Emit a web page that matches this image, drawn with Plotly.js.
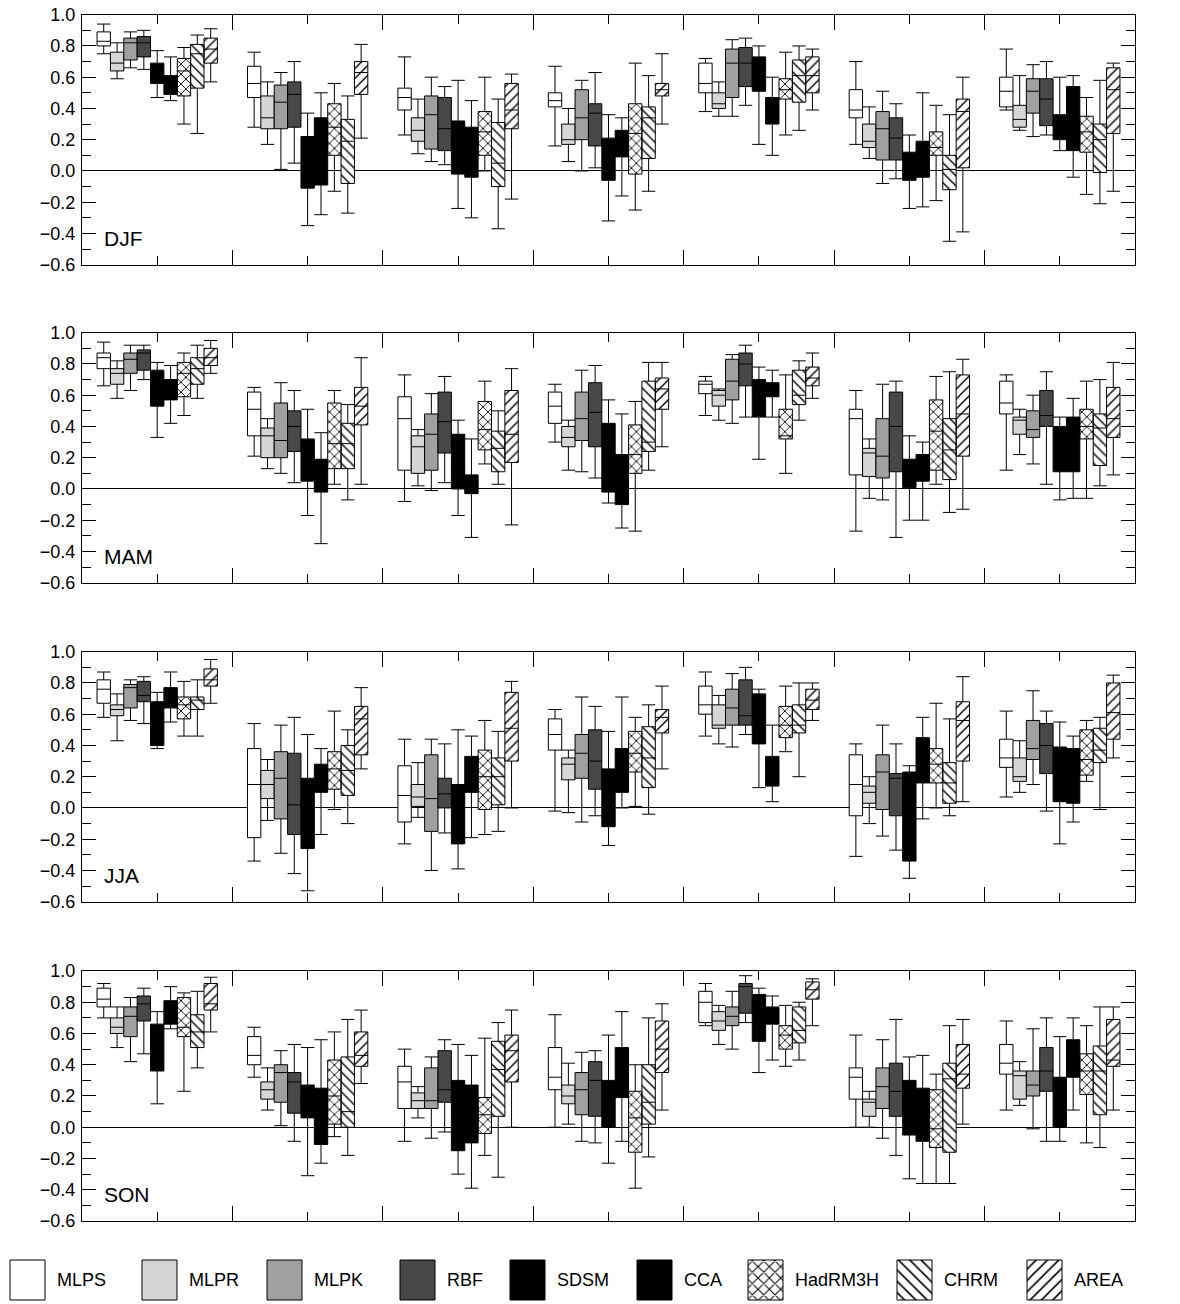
<!DOCTYPE html>
<html><head><meta charset="utf-8">
<script src="https://cdn.plot.ly/plotly-3.0.1.min.js"></script>
<style>html,body{margin:0;padding:0;background:#fff}#chart{width:1180px;height:1304px}</style>
</head><body><div id="chart"></div>
<script>
const indices = ['pav','pint','pq90','px5d','pxcdd','pfl90','pnl90'];
const methods = ['MLPS','MLPR','MLPK','RBF','SDSM','CCA','HadRM3H','CHRM','AREA'];
const seasons = ['DJF','MAM','JJA','SON'];

// rows = methods (MLPS..AREA), columns = indices (pav..pnl90)
const djfUpper = [
 [0.94,0.76,0.73,0.67,0.72,0.70,0.78],
 [0.82,0.57,0.46,0.40,0.57,0.41,0.61],
 [0.89,0.63,0.60,0.58,0.84,0.51,0.68],
 [0.90,0.70,0.54,0.63,0.85,0.43,0.70],
 [0.77,0.37,0.58,0.36,0.80,0.23,0.60],
 [0.73,0.50,0.45,0.34,0.60,0.50,0.61],
 [0.79,0.56,0.60,0.69,0.76,0.42,0.47],
 [0.87,0.48,0.46,0.61,0.80,0.36,0.58],
 [0.91,0.81,0.62,0.75,0.78,0.60,0.69]];
const djfQ3 = [
 [0.89,0.67,0.53,0.50,0.69,0.52,0.60],
 [0.76,0.48,0.34,0.30,0.50,0.30,0.42],
 [0.85,0.55,0.48,0.52,0.78,0.38,0.59],
 [0.86,0.57,0.47,0.43,0.79,0.34,0.59],
 [0.69,0.22,0.32,0.21,0.73,0.12,0.36],
 [0.61,0.34,0.28,0.26,0.47,0.19,0.54],
 [0.72,0.43,0.38,0.43,0.59,0.25,0.35],
 [0.81,0.33,0.31,0.41,0.71,0.10,0.30],
 [0.85,0.70,0.56,0.56,0.73,0.46,0.66]];
const djfMed = [
 [0.83,0.56,0.47,0.45,0.56,0.39,0.51],
 [0.69,0.34,0.26,0.20,0.43,0.19,0.33],
 [0.82,0.44,0.36,0.34,0.69,0.27,0.51],
 [0.82,0.49,0.27,0.37,0.69,0.21,0.46],
 [0.62,0.05,0.15,0.10,0.64,0.05,0.30],
 [0.54,0.10,0.12,0.17,0.37,0.08,0.35],
 [0.64,0.28,0.25,0.24,0.52,0.15,0.25],
 [0.75,0.19,0.05,0.34,0.61,0.01,0.20],
 [0.78,0.63,0.39,0.52,0.61,0.38,0.52]];
const djfQ1 = [
 [0.80,0.47,0.39,0.41,0.50,0.34,0.41],
 [0.64,0.27,0.19,0.17,0.40,0.15,0.28],
 [0.71,0.27,0.14,0.20,0.47,0.07,0.37],
 [0.73,0.28,0.13,0.16,0.54,0.07,0.29],
 [0.56,-0.11,-0.02,-0.06,0.51,-0.06,0.20],
 [0.49,-0.09,-0.04,0.09,0.30,-0.04,0.13],
 [0.48,0.10,0.10,-0.02,0.46,0.10,0.12],
 [0.53,-0.08,-0.10,0.08,0.44,-0.12,-0.01],
 [0.69,0.49,0.27,0.48,0.50,0.02,0.24]];
const djfLower = [
 [0.75,0.28,0.23,0.16,0.38,0.17,0.39],
 [0.59,0.17,0.11,0.06,0.35,0.08,0.26],
 [0.66,0.01,0.06,0.00,0.35,-0.08,0.22],
 [0.65,0.05,0.04,0.02,0.42,-0.05,0.23],
 [0.47,-0.35,-0.24,-0.32,0.17,-0.24,0.13],
 [0.45,-0.28,-0.30,-0.16,0.10,-0.23,-0.04],
 [0.30,-0.13,0.00,-0.25,0.23,-0.19,-0.15],
 [0.24,-0.27,-0.37,-0.13,0.26,-0.45,-0.21],
 [0.57,0.21,-0.18,0.30,0.39,-0.39,-0.13]];

const mamUpper = [
 [0.94,0.65,0.73,0.67,0.72,0.63,0.73],
 [0.82,0.45,0.38,0.44,0.64,0.32,0.51],
 [0.92,0.68,0.61,0.76,0.86,0.67,0.60],
 [0.92,0.63,0.72,0.79,0.92,0.69,0.75],
 [0.81,0.51,0.44,0.57,0.78,0.34,0.46],
 [0.79,0.36,0.32,0.48,0.76,0.30,0.58],
 [0.87,0.63,0.69,0.56,0.73,0.72,0.69],
 [0.92,0.54,0.50,0.81,0.82,0.75,0.70],
 [0.95,0.84,0.77,0.81,0.87,0.83,0.81]];
const mamQ3 = [
 [0.87,0.62,0.59,0.62,0.69,0.51,0.69],
 [0.77,0.39,0.34,0.40,0.63,0.26,0.46],
 [0.87,0.55,0.48,0.62,0.83,0.45,0.50],
 [0.89,0.50,0.62,0.68,0.87,0.62,0.63],
 [0.76,0.32,0.35,0.42,0.70,0.19,0.40],
 [0.70,0.19,0.09,0.22,0.68,0.22,0.46],
 [0.81,0.55,0.56,0.41,0.51,0.57,0.51],
 [0.84,0.42,0.37,0.69,0.76,0.45,0.48],
 [0.90,0.65,0.63,0.71,0.78,0.73,0.65]];
const mamMed = [
 [0.84,0.51,0.45,0.53,0.67,0.45,0.55],
 [0.74,0.34,0.27,0.33,0.60,0.23,0.44],
 [0.83,0.31,0.35,0.45,0.69,0.21,0.38],
 [0.87,0.40,0.43,0.49,0.80,0.40,0.47],
 [0.68,0.15,0.15,0.20,0.62,0.10,0.30],
 [0.64,0.10,0.02,0.10,0.64,0.12,0.30],
 [0.74,0.29,0.38,0.22,0.34,0.37,0.40],
 [0.77,0.29,0.26,0.30,0.60,0.25,0.39],
 [0.84,0.53,0.35,0.64,0.71,0.48,0.45]];
const mamQ1 = [
 [0.77,0.34,0.12,0.42,0.61,0.09,0.48],
 [0.67,0.20,0.10,0.27,0.53,0.08,0.35],
 [0.74,0.20,0.12,0.31,0.57,0.07,0.33],
 [0.76,0.24,0.23,0.27,0.66,0.11,0.40],
 [0.53,0.05,0.00,-0.02,0.46,0.01,0.11],
 [0.57,-0.02,-0.03,-0.10,0.59,0.05,0.11],
 [0.59,0.13,0.25,0.10,0.32,0.12,0.32],
 [0.67,0.13,0.11,0.24,0.54,0.06,0.15],
 [0.79,0.41,0.17,0.51,0.66,0.21,0.33]];
const mamLower = [
 [0.66,0.21,-0.08,0.30,0.47,-0.27,0.12],
 [0.58,0.13,0.02,0.12,0.44,-0.06,0.22],
 [0.63,0.10,-0.01,0.11,0.42,-0.07,0.16],
 [0.70,0.04,0.04,0.07,0.46,-0.31,0.03],
 [0.33,-0.17,-0.17,-0.09,0.19,-0.20,-0.07],
 [0.42,-0.35,-0.31,-0.25,0.46,-0.20,-0.06],
 [0.47,0.03,0.16,-0.27,0.10,0.03,-0.06],
 [0.58,-0.07,0.03,0.12,0.44,-0.15,0.02],
 [0.74,0.03,-0.23,0.27,0.58,-0.13,0.09]];

const jjaUpper = [
 [0.87,0.54,0.44,0.63,0.87,0.41,0.62],
 [0.73,0.31,0.29,0.37,0.72,0.20,0.43],
 [0.82,0.53,0.44,0.71,0.86,0.53,0.75],
 [0.84,0.58,0.41,0.65,0.90,0.41,0.62],
 [0.74,0.47,0.50,0.49,0.76,0.27,0.55],
 [0.87,0.38,0.46,0.71,0.53,0.58,0.46],
 [0.81,0.62,0.56,0.58,0.78,0.67,0.56],
 [0.82,0.50,0.49,0.66,0.80,0.57,0.58],
 [0.95,0.77,0.81,0.78,0.80,0.84,0.85]];
const jjaQ3 = [
 [0.82,0.38,0.27,0.57,0.78,0.34,0.44],
 [0.66,0.24,0.15,0.32,0.66,0.14,0.32],
 [0.79,0.36,0.34,0.47,0.76,0.34,0.56],
 [0.81,0.35,0.19,0.50,0.82,0.22,0.54],
 [0.68,0.19,0.15,0.25,0.73,0.23,0.39],
 [0.77,0.28,0.33,0.38,0.33,0.45,0.38],
 [0.71,0.36,0.37,0.49,0.65,0.38,0.50],
 [0.71,0.40,0.32,0.52,0.66,0.29,0.51],
 [0.89,0.65,0.74,0.63,0.76,0.68,0.80]];
const jjaMed = [
 [0.76,0.15,0.08,0.47,0.66,0.15,0.32],
 [0.63,0.15,0.07,0.28,0.53,0.10,0.20],
 [0.77,0.19,0.06,0.35,0.64,0.23,0.38],
 [0.72,0.02,0.09,0.30,0.59,0.19,0.40],
 [0.60,0.00,0.05,0.10,0.60,0.10,0.20],
 [0.70,0.17,0.20,0.20,0.25,0.30,0.20],
 [0.66,0.25,0.20,0.35,0.53,0.28,0.31],
 [0.69,0.24,0.20,0.32,0.53,0.16,0.37],
 [0.82,0.57,0.51,0.58,0.69,0.56,0.61]];
const jjaQ1 = [
 [0.67,-0.19,-0.09,0.37,0.60,-0.05,0.26],
 [0.59,0.06,0.01,0.18,0.51,0.03,0.17],
 [0.64,-0.07,-0.15,0.19,0.53,-0.01,0.31],
 [0.68,-0.17,0.00,0.12,0.53,-0.05,0.22],
 [0.40,-0.26,-0.23,-0.12,0.41,-0.34,0.04],
 [0.64,0.10,0.10,0.10,0.14,0.16,0.03],
 [0.57,0.12,-0.01,0.23,0.45,0.16,0.21],
 [0.63,0.08,0.02,0.13,0.48,0.03,0.29],
 [0.78,0.34,0.30,0.48,0.63,0.30,0.44]];
const jjaLower = [
 [0.58,-0.34,-0.23,-0.02,0.46,-0.31,0.07],
 [0.43,-0.08,-0.06,-0.03,0.41,-0.10,0.10],
 [0.56,-0.29,-0.40,-0.09,0.39,-0.18,0.15],
 [0.54,-0.42,-0.16,-0.05,0.47,-0.27,-0.02],
 [0.38,-0.53,-0.39,-0.24,0.13,-0.45,-0.23],
 [0.55,-0.17,-0.19,0.00,0.04,-0.07,-0.09],
 [0.46,-0.01,-0.17,0.01,0.36,0.00,0.17],
 [0.46,-0.10,-0.15,-0.04,0.20,-0.05,-0.01],
 [0.67,0.25,0.00,0.25,0.56,0.04,0.32]];

const sonUpper = [
 [0.92,0.64,0.50,0.72,0.92,0.59,0.68],
 [0.77,0.38,0.26,0.41,0.78,0.23,0.42],
 [0.83,0.49,0.45,0.48,0.87,0.56,0.63],
 [0.89,0.53,0.56,0.49,0.97,0.69,0.70],
 [0.74,0.51,0.53,0.59,0.89,0.45,0.58],
 [0.90,0.56,0.46,0.74,0.84,0.46,0.70],
 [0.86,0.61,0.57,0.40,0.78,0.34,0.65],
 [0.87,0.69,0.67,0.70,0.80,0.65,0.77],
 [0.96,0.75,0.75,0.79,0.95,0.69,0.77]];
const sonQ3 = [
 [0.89,0.58,0.39,0.51,0.87,0.38,0.53],
 [0.70,0.29,0.22,0.27,0.74,0.18,0.36],
 [0.77,0.40,0.38,0.35,0.77,0.38,0.36],
 [0.84,0.35,0.49,0.42,0.92,0.41,0.51],
 [0.66,0.27,0.30,0.30,0.85,0.30,0.32],
 [0.81,0.25,0.27,0.51,0.77,0.25,0.56],
 [0.83,0.43,0.19,0.23,0.65,0.24,0.47],
 [0.72,0.45,0.55,0.40,0.77,0.41,0.52],
 [0.92,0.61,0.59,0.68,0.93,0.53,0.69]];
const sonMed = [
 [0.82,0.46,0.29,0.32,0.80,0.32,0.41],
 [0.64,0.24,0.17,0.20,0.68,0.16,0.33],
 [0.71,0.35,0.17,0.24,0.71,0.26,0.27],
 [0.79,0.29,0.24,0.30,0.90,0.23,0.36],
 [0.52,0.15,0.10,0.20,0.75,0.10,0.15],
 [0.72,0.10,0.10,0.30,0.70,0.05,0.45],
 [0.64,0.20,0.08,0.06,0.59,-0.01,0.36],
 [0.61,0.10,0.37,0.16,0.62,0.31,0.36],
 [0.79,0.46,0.49,0.50,0.88,0.34,0.43]];
const sonQ1 = [
 [0.77,0.40,0.12,0.24,0.67,0.18,0.34],
 [0.60,0.18,0.12,0.15,0.62,0.07,0.18],
 [0.58,0.16,0.12,0.08,0.65,0.12,0.20],
 [0.68,0.09,0.16,0.07,0.73,0.07,0.23],
 [0.36,0.06,-0.15,0.00,0.55,-0.05,0.00],
 [0.66,-0.11,-0.10,0.19,0.66,-0.09,0.32],
 [0.58,0.02,-0.04,-0.16,0.50,-0.13,0.21],
 [0.51,0.00,0.07,0.02,0.54,-0.16,0.08],
 [0.75,0.39,0.29,0.35,0.82,0.25,0.39]];
const sonLower = [
 [0.70,0.32,-0.09,0.00,0.65,0.00,0.11],
 [0.51,0.11,0.06,0.02,0.53,0.00,0.14],
 [0.42,0.01,-0.07,-0.09,0.50,-0.07,-0.01],
 [0.47,-0.09,-0.03,-0.10,0.67,-0.18,-0.09],
 [0.15,-0.31,-0.30,-0.23,0.35,-0.33,-0.09],
 [0.63,-0.23,-0.39,-0.09,0.43,-0.36,0.11],
 [0.23,-0.06,-0.18,-0.39,0.39,-0.36,-0.10],
 [0.38,-0.18,-0.32,-0.19,0.43,-0.36,-0.13],
 [0.61,0.28,0.00,0.11,0.65,0.02,0.11]];

// ---- styles / layout (not data) ----
const methodFill = ['#ffffff','#d6d6d6','#a0a0a0','#484848','#000000','#000000','#ffffff','#ffffff','#ffffff'];
const methodPattern = ['','','','','','','x','\\','/'];
const patternSolidity = {'x': 0.24, '\\': 0.2, '/': 0.2};
const FONT = 'Liberation Sans, Arial, Helvetica, sans-serif';
const bw = 1.6 / 9;                       // box width in x units (category spacing 2)
const labelPos = [0.98, 3.0, 5.07, 7.2, 9.27, 11.34, 13.4];
const panelDomains = [[0.79701,0.98873],[0.55314,0.74486],[0.30851,0.50023],[0.06365,0.25537]];
const xDomain = [82/1180, 1135/1180];
const legendLeft = [10,142,267,400,510,637,748,897,1027];
const legendSw = 35, legendTop = 16, legendH = 40;

const seasonStats = [
 {upper: djfUpper, q3: djfQ3, med: djfMed, q1: djfQ1, lower: djfLower},
 {upper: mamUpper, q3: mamQ3, med: mamMed, q1: mamQ1, lower: mamLower},
 {upper: jjaUpper, q3: jjaQ3, med: jjaMed, q1: jjaQ1, lower: jjaLower},
 {upper: sonUpper, q3: sonQ3, med: sonMed, q1: sonQ1, lower: sonLower}
];

function pat(i, size) {
  return {shape: methodPattern[i], fgcolor: '#000', bgcolor: '#fff', size: size,
          solidity: patternSolidity[methodPattern[i]]};
}

const traces = [];
const layout = {
  width: 1180, height: 1304,
  margin: {l: 0, r: 0, t: 0, b: 0},
  paper_bgcolor: '#fff', plot_bgcolor: 'rgba(0,0,0,0)',
  showlegend: false, boxmode: 'overlay', barmode: 'overlay',
  font: {family: FONT, size: 18, color: '#000'},
  annotations: []
};

seasonStats.forEach((sd, p) => {
  const xid = 'x' + (p === 0 ? '' : (2*p+1));
  const yid = 'y' + (p === 0 ? '' : (p+1));
  methods.forEach((m, i) => {
    const xs = indices.map((_, j) => 1 + 2*j + (i - 4) * bw);
    if (methodPattern[i]) {
      traces.push({
        type: 'bar', x: xs, base: sd.q1[i], y: sd.q3[i].map((v, j) => v - sd.q1[i][j]),
        width: bw, xaxis: xid, yaxis: yid, hoverinfo: 'skip', showlegend: false,
        marker: {color: '#fff', line: {width: 0}, pattern: pat(i, 7)}
      });
    }
    traces.push({
      type: 'box', name: m, orientation: 'v', x: xs,
      q1: sd.q1[i], median: sd.med[i], q3: sd.q3[i],
      lowerfence: sd.lower[i], upperfence: sd.upper[i],
      width: bw, whiskerwidth: 1, boxpoints: false,
      fillcolor: methodPattern[i] ? 'rgba(0,0,0,0)' : methodFill[i],
      line: {color: '#000', width: 1},
      xaxis: xid, yaxis: yid, hoverinfo: 'skip', showlegend: false
    });
  });

  const xKey = 'xaxis' + (p === 0 ? '' : (2*p+1));
  const yKey = 'yaxis' + (p === 0 ? '' : (p+1));
  layout[xKey] = {
    domain: xDomain, anchor: yid, range: [0, 14], fixedrange: true,
    tickmode: 'linear', tick0: 0, dtick: 2, ticks: 'inside', ticklen: 15, tickwidth: 1, tickcolor: '#000',
    showticklabels: false, showline: true, linecolor: '#000', linewidth: 1, mirror: 'allticks',
    showgrid: false, zeroline: false,
    minor: {tickmode: 'linear', tick0: 0, dtick: 1, ticks: 'inside', ticklen: 9, tickwidth: 1, tickcolor: '#000', showgrid: false}
  };
  layout['xaxis' + (2*p+2)] = {
    overlaying: xid, anchor: yid, range: [0, 14], fixedrange: true,
    tickmode: 'array', tickvals: labelPos, ticktext: indices, ticks: '',
    showline: false, showgrid: false, zeroline: false,
    tickfont: {family: FONT, size: 18, color: '#000'}
  };
  layout[yKey] = {
    domain: panelDomains[p], anchor: xid, range: [-0.6, 1.0], fixedrange: true,
    tickmode: 'linear', tick0: 0, dtick: 0.2, tickformat: '.1f',
    ticks: 'inside', ticklen: 14, tickwidth: 1, tickcolor: '#000',
    showline: true, linecolor: '#000', linewidth: 1, mirror: 'allticks',
    showgrid: false, zeroline: true, zerolinecolor: '#000', zerolinewidth: 1,
    ticklabelstandoff: 2,
    tickfont: {family: FONT, size: 18, color: '#000'},
    minor: {tickmode: 'linear', tick0: 0, dtick: 0.1, ticks: 'inside', ticklen: 9, tickwidth: 1, tickcolor: '#000', showgrid: false}
  };
  layout.annotations.push({
    text: seasons[p], xref: xid + ' domain', yref: yid + ' domain',
    x: 0.019, y: 0.106, xanchor: 'left', yanchor: 'middle', showarrow: false,
    font: {family: FONT, size: 21, color: '#000'}
  });
});

// ---- legend swatches (own axis in pixel-like units), one bar trace per method ----
methods.forEach((m, i) => {
  const mk = {color: methodFill[i], line: {color: '#000', width: 1}};
  if (methodPattern[i]) mk.pattern = pat(i, 8);
  traces.push({
    type: 'bar', x: [legendLeft[i] + legendSw/2], base: [legendTop], y: [legendH],
    width: legendSw, xaxis: 'x9', yaxis: 'y5', hoverinfo: 'skip', showlegend: false,
    marker: mk
  });
  layout.annotations.push({
    text: m, xref: 'x9', yref: 'y5', x: legendLeft[i] + legendSw + 10, y: legendTop + legendH/2,
    xanchor: 'left', yanchor: 'middle', showarrow: false,
    font: {family: FONT, size: 18, color: '#000'}
  });
});
layout.xaxis9 = {domain: [0, 1], range: [0, 1180], anchor: 'y5', visible: false, fixedrange: true};
layout.yaxis5 = {domain: [0, 60/1304], range: [60, 0], anchor: 'x9', visible: false, fixedrange: true};

Plotly.newPlot('chart', traces, layout, {staticPlot: true, displayModeBar: false});
</script>
</body></html>
